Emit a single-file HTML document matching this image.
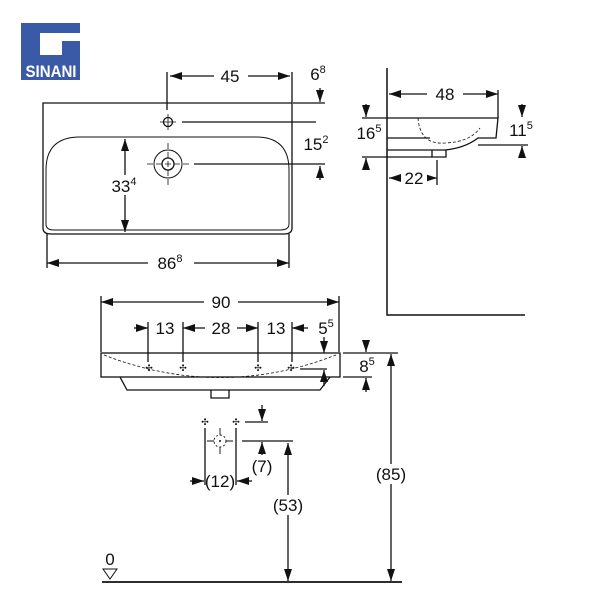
<!DOCTYPE html>
<html><head><meta charset="utf-8"><style>
html,body{margin:0;padding:0;background:#fff}
svg{display:block}
text{font-family:"Liberation Sans",Arial,sans-serif;fill:#111}
</style></head><body>
<svg width="600" height="600" viewBox="0 0 600 600" xmlns="http://www.w3.org/2000/svg">
<defs>
<marker id="a" viewBox="0 0 12 8" refX="12" refY="4" markerWidth="12" markerHeight="8" markerUnits="userSpaceOnUse" orient="auto-start-reverse"><path d="M0,0L12,4L0,8z" fill="#111"/></marker>
</defs>
<!-- logo -->
<rect x="21" y="23" width="59" height="57" fill="#3a5aa8"/>
<rect x="40" y="33" width="40" height="8" fill="#fff"/>
<rect x="40" y="33" width="22" height="22" fill="#fff"/>
<text x="51" y="77" font-size="17" font-weight="bold" text-anchor="middle" style="fill:#fff" textLength="51" lengthAdjust="spacingAndGlyphs">SINANI</text>

<g stroke="#111" stroke-width="1.3" fill="none">
<!-- top view -->
<path d="M43,103H292V228Q292,234 284,234H51Q43,234 43,228Z"/>
<path d="M46,170Q46,137 80,137H256Q289,137 289,170V224Q289,230 280,230H54Q46,230 46,224Z" stroke-width="1"/>
<circle cx="168" cy="122" r="4.5"/><path d="M160,122h16M168,114v16" stroke-width="0.8"/>
<circle cx="168" cy="164" r="14" stroke-width="1"/><circle cx="168" cy="164" r="6"/>
<path d="M147,164h42M168,143v42" stroke-width="0.8" stroke-dasharray="6,3"/>
<path d="M167,72V110M292,72V103M293,103H325M182,122H316M194,164H325"/>
<path d="M170,76H290" marker-start="url(#a)" marker-end="url(#a)"/>
<path d="M320,88V102" marker-end="url(#a)"/>
<path d="M320,180V166" marker-end="url(#a)"/>
<path d="M125,139V232" marker-start="url(#a)" marker-end="url(#a)"/>
<path d="M47,234V268M289,234V268"/>
<path d="M47,263H289" marker-start="url(#a)" marker-end="url(#a)"/>

<!-- side view -->
<path d="M387,68V315H525" stroke-width="1.5"/>
<path d="M387,118H498L496,138H478Q465,148 445,150H387M387,138H430" />
<path d="M498,90V118"/>
<path d="M418,118Q420,145 445,143Q470,142 480,128" stroke-dasharray="3,2" stroke-width="0.8"/>
<path d="M432,150V157H446V150" />
<path d="M389,94H498" marker-start="url(#a)" marker-end="url(#a)"/>
<path d="M362,118H387M362,157H432M478,145H528"/>
<path d="M366,104V117" marker-end="url(#a)"/>
<path d="M366,170V158" marker-end="url(#a)"/>
<path d="M522,104V117" marker-end="url(#a)"/>
<path d="M522,158V146" marker-end="url(#a)"/>
<path d="M437,160V185"/>
<path d="M389,178H437" marker-start="url(#a)" marker-end="url(#a)"/>

<!-- front view -->
<path d="M101,296V352M339,296V352"/>
<path d="M101,302H339" marker-start="url(#a)" marker-end="url(#a)"/>
<rect x="101" y="353" width="239" height="24"/>
<path d="M120,377L127,390H320L330,377"/>
<path d="M211,390V398H229V390"/>
<path d="M104,355Q220,400 336,355" stroke-dasharray="3,2" stroke-width="0.8"/>
<path d="M148,322V362M183,322V362M258,322V362M292,322V362"/>
<path d="M134,328H148" marker-end="url(#a)"/>
<path d="M183,328H258" marker-start="url(#a)" marker-end="url(#a)"/>
<path d="M308,328H292" marker-end="url(#a)"/>
<path d="M324,337V353" marker-end="url(#a)"/>
<path d="M324,386V370" marker-end="url(#a)"/>
<path d="M300,369H327"/>
<path d="M343,353H398M343,377H372"/>
<path d="M366,340V352" marker-end="url(#a)"/>
<path d="M366,392V378" marker-end="url(#a)"/>
<path d="M391,354V581" marker-start="url(#a)" marker-end="url(#a)"/>
<path d="M102,582H402" stroke-width="1.8"/>
<path d="M103,569H117L110,579Z" stroke-width="1"/>

<!-- lower -->
<path d="M205,428V485M236,428V485"/>
<circle cx="220" cy="441" r="6" stroke-dasharray="2,2" stroke-width="0.9"/>
<path d="M207,441h7M226,441h7M220,428v7M220,447v7" stroke-width="0.9"/>
<path d="M190,481H204" marker-end="url(#a)"/>
<path d="M252,481H237" marker-end="url(#a)"/>
<path d="M245,422H268M242,441H293"/>
<path d="M262,405V421" marker-end="url(#a)"/>
<path d="M262,455V442" marker-end="url(#a)"/>
<path d="M288,443V581" marker-start="url(#a)" marker-end="url(#a)"/>
</g>
<g font-size="9" text-anchor="middle" fill="#333">
<text x="149" y="371">✣</text><text x="183" y="371">✣</text><text x="258" y="371">✣</text><text x="291" y="371">✣</text>
<text x="205" y="425">✣</text><text x="236" y="425">✣</text>
</g>
<circle cx="220" cy="441" r="1" fill="#111"/>

<g font-size="17" text-anchor="middle">
<rect x="214" y="67" width="34" height="18" fill="#fff"/><text x="230" y="82">45</text>
<text x="318" y="80">6<tspan font-size="11" dy="-7">8</tspan></text>
<text x="316" y="150">15<tspan font-size="11" dy="-7">2</tspan></text>
<rect x="106" y="175" width="40" height="20" fill="#fff"/><text x="124" y="192">33<tspan font-size="11" dy="-7">4</tspan></text>
<rect x="148" y="254" width="46" height="18" fill="#fff"/><text x="170" y="269">86<tspan font-size="11" dy="-7">8</tspan></text>
<rect x="427" y="85" width="36" height="18" fill="#fff"/><text x="445" y="100">48</text>
<text x="369" y="139">16<tspan font-size="11" dy="-7">5</tspan></text>
<text x="521" y="136">11<tspan font-size="11" dy="-7">5</tspan></text>
<rect x="401" y="170" width="26" height="16" fill="#fff"/><text x="414" y="184">22</text>
<rect x="204" y="293" width="34" height="18" fill="#fff"/><text x="221" y="308">90</text>
<text x="165" y="334">13</text>
<rect x="205" y="320" width="32" height="16" fill="#fff"/><text x="221" y="334">28</text>
<text x="276" y="334">13</text>
<text x="326" y="334">5<tspan font-size="11" dy="-7">5</tspan></text>
<text x="367" y="372">8<tspan font-size="11" dy="-7">5</tspan></text>
<rect x="370" y="464" width="42" height="20" fill="#fff"/><text x="391" y="480">(85)</text>
<text x="262" y="472">(7)</text>
<text x="220" y="487">(12)</text>
<rect x="268" y="495" width="40" height="20" fill="#fff"/><text x="288" y="511">(53)</text>
<text x="110" y="565">0</text>
</g>
</svg>
</body></html>
